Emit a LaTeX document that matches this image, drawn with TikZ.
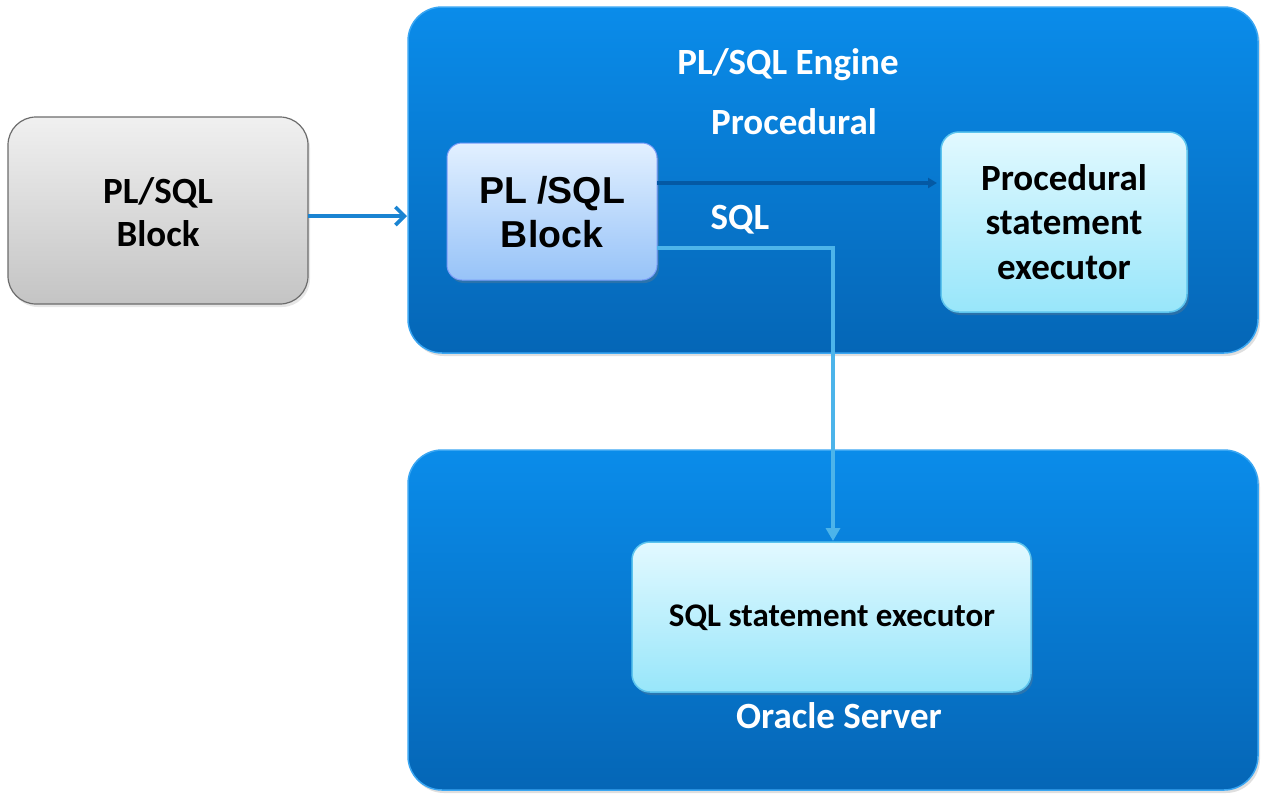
\documentclass[tikz,border=0pt]{standalone}
\usepackage{fontspec}
\setmainfont{Carlito}
\newfontfamily\arialf{Liberation Sans}
\usetikzlibrary{arrows.meta,shadows}
\definecolor{bluetop}{HTML}{0A8CEA}
\definecolor{bluebot}{HTML}{0566B6}
\definecolor{blueedge}{HTML}{3AA6F2}
\definecolor{lbtop}{HTML}{E2F0FF}
\definecolor{lbbot}{HTML}{97C3F8}
\definecolor{cytop}{HTML}{E2F9FF}
\definecolor{cybot}{HTML}{98E6FA}
\definecolor{cyedge}{HTML}{5CC4EE}
\definecolor{graytop}{HTML}{F0F0F0}
\definecolor{graybot}{HTML}{C4C4C4}
\definecolor{arrowblue}{HTML}{1A84D2}
\definecolor{darkarrow}{HTML}{0459A4}
\definecolor{sqlline}{HTML}{4CB4EA}
\tikzset{
  bigbox/.style={draw=blueedge, line width=1.5pt, rounded corners=34pt,
    top color=bluetop, bottom color=bluebot,
    drop shadow={shadow xshift=2pt, shadow yshift=-3pt, opacity=0.25}},
  graybox/.style={draw=gray!85!black, line width=1.2pt, rounded corners=28pt,
    top color=graytop, bottom color=graybot,
    drop shadow={shadow xshift=2pt, shadow yshift=-3pt, opacity=0.2}},
  innerbox/.style={draw=lbbot!80!blue, line width=1pt, rounded corners=15pt,
    top color=lbtop, bottom color=lbbot,
    drop shadow={shadow xshift=2pt, shadow yshift=-3pt, opacity=0.3}},
  execbox/.style={draw=cyedge, line width=1.5pt, rounded corners=18pt,
    top color=cytop, bottom color=cybot,
    drop shadow={shadow xshift=2pt, shadow yshift=-3pt, opacity=0.3}},
  wlabel/.style={text=white, font=\fontsize{37}{44}\selectfont\bfseries},
  blabel/.style={text=black, align=center, font=\fontsize{37}{43}\selectfont\bfseries},
}
\begin{document}
\begin{tikzpicture}[x=1pt,y=-1pt]
\useasboundingbox (0,0) rectangle (1267,804);
% boxes
\path[graybox] (8,117) rectangle (308,304);
\node[blabel] (left) at (158,212) {PL/SQL\\Block};
\coordinate (leftE) at (308,216);

\path[bigbox] (408,7) rectangle (1258,353);
\coordinate (engW) at (407,216);
\node[wlabel] (englabel) at (788,65) {PL/SQL Engine};
\node[wlabel] (proclabel) at (794,122) {Procedural};
\node[wlabel] (sqllabel) at (740,220) {SQL};

\path[bigbox] (408,450) rectangle (1258,790);
\node[wlabel] (oralabel) at (839,716) {Oracle Server};

\path[innerbox] (447,143) rectangle (657,280);
\node[align=center, font=\arialf\fontsize{37.5}{44}\selectfont\bfseries] (inner) at (552,212) {PL /SQL\\Block};
\coordinate (innerE1) at (657,183);
\coordinate (innerE2) at (657,248);

\path[execbox] (941,132) rectangle (1187,312);
\node[blabel, font=\fontsize{37}{44.5}\selectfont\bfseries] (proc) at (1064,222) {Procedural\\statement\\executor};
\coordinate (procW) at (937,183);

\path[execbox] (632,542) rectangle (1031,692);
\node[blabel, font=\fontsize{33}{38}\selectfont\bfseries] (sqlexec) at (832,618) {SQL statement executor};
\coordinate (sqlN) at (833,541);
\coordinate (bend) at (833,248);

% connectors
\draw[arrowblue, line width=3.6pt, -{Straight Barb[length=9pt,width=18pt,line width=3.6pt]}] (leftE) -- (engW);
\draw[darkarrow, line width=3.4pt, -{Triangle[length=9pt,width=10pt]}] (innerE1) -- (procW);
\draw[sqlline, line width=3.6pt, -{Triangle[length=13pt,width=14pt]}] (innerE2) -- (bend) -- (sqlN);
\end{tikzpicture}
\end{document}
